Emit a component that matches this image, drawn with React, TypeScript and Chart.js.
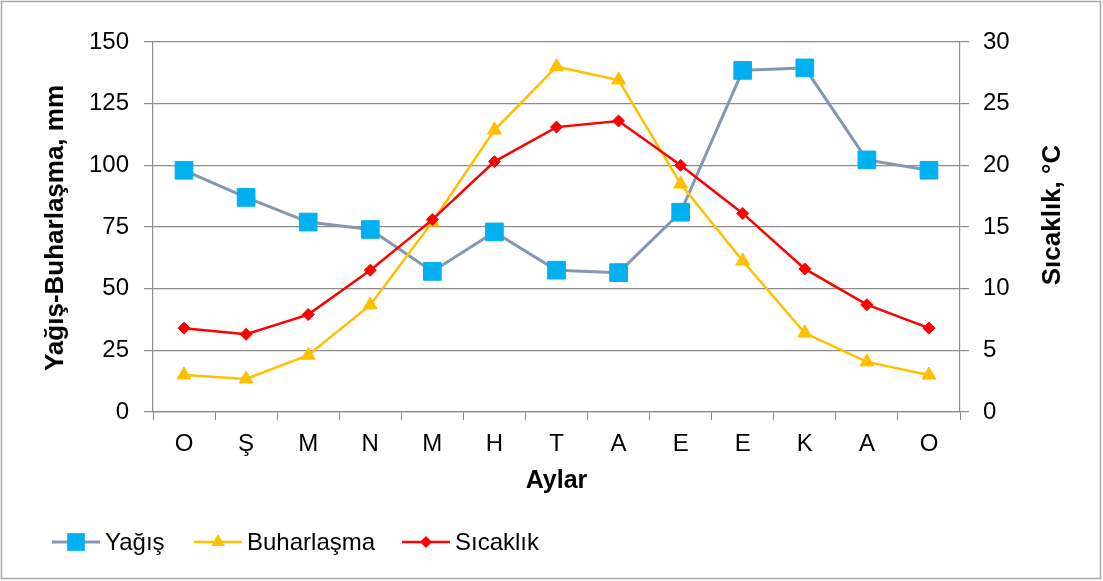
import React, { useEffect, useRef } from 'react';
import { Chart, registerables } from 'chart.js';

Chart.register(...registerables);

const months = ['O', 'Ş', 'M', 'N', 'M', 'H', 'T', 'A', 'E', 'E', 'K', 'A', 'O'];
const yagis = [98, 87, 77, 74, 57, 73, 57.5, 56.5, 81, 138.5, 139.5, 102.2, 98];
const buharlasma = [15, 13.4, 23, 43.4, 77, 114.3, 140, 134.6, 92.4, 61.2, 32, 20.3, 15];
const sicaklik = [6.8, 6.3, 7.9, 11.5, 15.6, 20.3, 23.1, 23.6, 20, 16.1, 11.6, 8.7, 6.8];

const seriesNames = ['Yağış', 'Buharlaşma', 'Sıcaklık'];
const leftTitle = 'Yağış-Buharlaşma, mm';
const rightTitle = 'Sıcaklık, °C';
const xTitle = 'Aylar';
const leftMax = 150;
const leftStep = 25;
const rightMax = 30;
const rightStep = 5;

const FONT = '"Liberation Sans", Arial, sans-serif';
const GRID = '#8c8c8c';

function drawMarker(ctx: CanvasRenderingContext2D, style: string, x: number, y: number, r: number, fill: string) {
  ctx.fillStyle = fill;
  ctx.beginPath();
  if (style === 'rect') {
    const s = Math.SQRT1_2 * r;
    ctx.rect(x - s, y - s, 2 * s, 2 * s);
  } else if (style === 'triangle') {
    let rad = 0;
    ctx.moveTo(x + Math.sin(rad) * r, y - Math.cos(rad) * r);
    rad += (2 * Math.PI) / 3;
    ctx.lineTo(x + Math.sin(rad) * r, y - Math.cos(rad) * r);
    rad += (2 * Math.PI) / 3;
    ctx.lineTo(x + Math.sin(rad) * r, y - Math.cos(rad) * r);
    ctx.closePath();
  } else {
    ctx.moveTo(x - r, y);
    ctx.lineTo(x, y - r);
    ctx.lineTo(x + r, y);
    ctx.lineTo(x, y + r);
    ctx.closePath();
  }
  ctx.fill();
}

const decorPlugin = {
  id: 'decor',
  beforeDraw(chart: any) {
    const ctx = chart.ctx as CanvasRenderingContext2D;
    ctx.save();
    ctx.fillStyle = '#ffffff';
    ctx.fillRect(0, 0, chart.width, chart.height);
    ctx.strokeStyle = '#a6a6a6';
    ctx.lineWidth = 1.5;
    ctx.strokeRect(1.5, 1.5, chart.width - 4, chart.height - 4);
    ctx.restore();
  },
  afterDraw(chart: any) {
    const ctx = chart.ctx as CanvasRenderingContext2D;
    const area = chart.chartArea;
    ctx.save();
    ctx.fillStyle = '#000';
    ctx.font = `bold 26px ${FONT}`;
    ctx.textAlign = 'center';
    ctx.textBaseline = 'middle';
    ctx.save();
    ctx.translate(56, 228);
    ctx.rotate(-Math.PI / 2);
    ctx.fillText(leftTitle, 0, 0);
    ctx.restore();
    ctx.save();
    ctx.translate(1053, 215);
    ctx.rotate(-Math.PI / 2);
    ctx.fillText(rightTitle, 0, 0);
    ctx.restore();
    ctx.font = `bold 25px ${FONT}`;
    ctx.fillText(xTitle, (area.left + area.right) / 2, 481);

    // legend
    const ly = 542;
    const starts = [52, 194, 402];
    chart.data.datasets.forEach((ds: any, i: number) => {
      const x0 = starts[i];
      const lineLen = 48;
      ctx.strokeStyle = ds.borderColor;
      ctx.lineWidth = ds.borderWidth;
      ctx.beginPath();
      ctx.moveTo(x0, ly);
      ctx.lineTo(x0 + lineLen, ly);
      ctx.stroke();
      drawMarker(ctx, ds.pointStyle, x0 + lineLen / 2, ly, ds.pointRadius, ds.pointBackgroundColor);
      ctx.fillStyle = '#000';
      ctx.font = `24px ${FONT}`;
      ctx.textAlign = 'left';
      ctx.textBaseline = 'middle';
      ctx.fillText(ds.label, x0 + lineLen + 5, ly + 1);
    });
    ctx.restore();
  },
};

export default function App() {
  const ref = useRef<HTMLCanvasElement>(null);
  useEffect(() => {
    if (!ref.current) return;
    const chart = new Chart(ref.current, {
      type: 'line',
      data: {
        labels: months,
        datasets: [
          {
            label: seriesNames[0],
            data: yagis,
            yAxisID: 'y',
            borderColor: '#8497B0',
            borderWidth: 3,
            pointStyle: 'rect',
            pointRadius: 12.5,
            pointBackgroundColor: '#00B0F0',
            pointBorderColor: '#00B0F0',
            pointBorderWidth: 1,
            tension: 0,
            order: 3,
          },
          {
            label: seriesNames[1],
            data: buharlasma,
            yAxisID: 'y',
            borderColor: '#FFC000',
            borderWidth: 2.5,
            pointStyle: 'triangle',
            pointRadius: 8,
            pointBackgroundColor: '#FFC000',
            pointBorderColor: '#FFC000',
            pointBorderWidth: 1,
            tension: 0,
            order: 2,
          },
          {
            label: seriesNames[2],
            data: sicaklik,
            yAxisID: 'y1',
            borderColor: '#FF0000',
            borderWidth: 2.5,
            pointStyle: 'rectRot',
            pointRadius: 6,
            pointBackgroundColor: '#FF0000',
            pointBorderColor: '#FF0000',
            pointBorderWidth: 1,
            tension: 0,
            order: 1,
          },
        ],
      },
      options: {
        responsive: false,
        animation: false,
        devicePixelRatio: 1,
        layout: { padding: { left: 0, right: 0, top: 42, bottom: 0 } },
        plugins: { legend: { display: false }, tooltip: { enabled: false } },
        scales: {
          x: {
            offset: true,
            grid: { offset: true, drawOnChartArea: false, tickLength: 8, color: GRID, lineWidth: 1 },
            border: { color: GRID, width: 1.2 },
            ticks: { color: '#000', font: { family: FONT, size: 24 }, padding: 10, maxRotation: 0, autoSkip: false },
            afterFit: (s: any) => { s.height = 169; },
          },
          y: {
            position: 'left',
            min: 0,
            max: leftMax,
            ticks: { stepSize: leftStep, color: '#000', font: { family: FONT, size: 24 }, padding: 15 },
            grid: { color: GRID, tickLength: 9, lineWidth: 1.2 },
            border: { color: GRID, width: 1.2 },
            afterFit: (s: any) => { s.width = 153; },
          },
          y1: {
            position: 'right',
            min: 0,
            max: rightMax,
            ticks: { stepSize: rightStep, color: '#000', font: { family: FONT, size: 24 }, padding: 14 },
            grid: { drawOnChartArea: false, color: GRID, tickLength: 9, lineWidth: 1.2 },
            border: { color: GRID, width: 1.2 },
            afterFit: (s: any) => { s.width = 143; },
          },
        },
      },
      plugins: [decorPlugin],
    });
    return () => chart.destroy();
  }, []);
  return (
    <div style={{ position: 'absolute', left: 0, top: 0, width: 1103, height: 581, background: '#fff' }}>
      <canvas ref={ref} width={1103} height={581} style={{ display: 'block' }} />
    </div>
  );
}
